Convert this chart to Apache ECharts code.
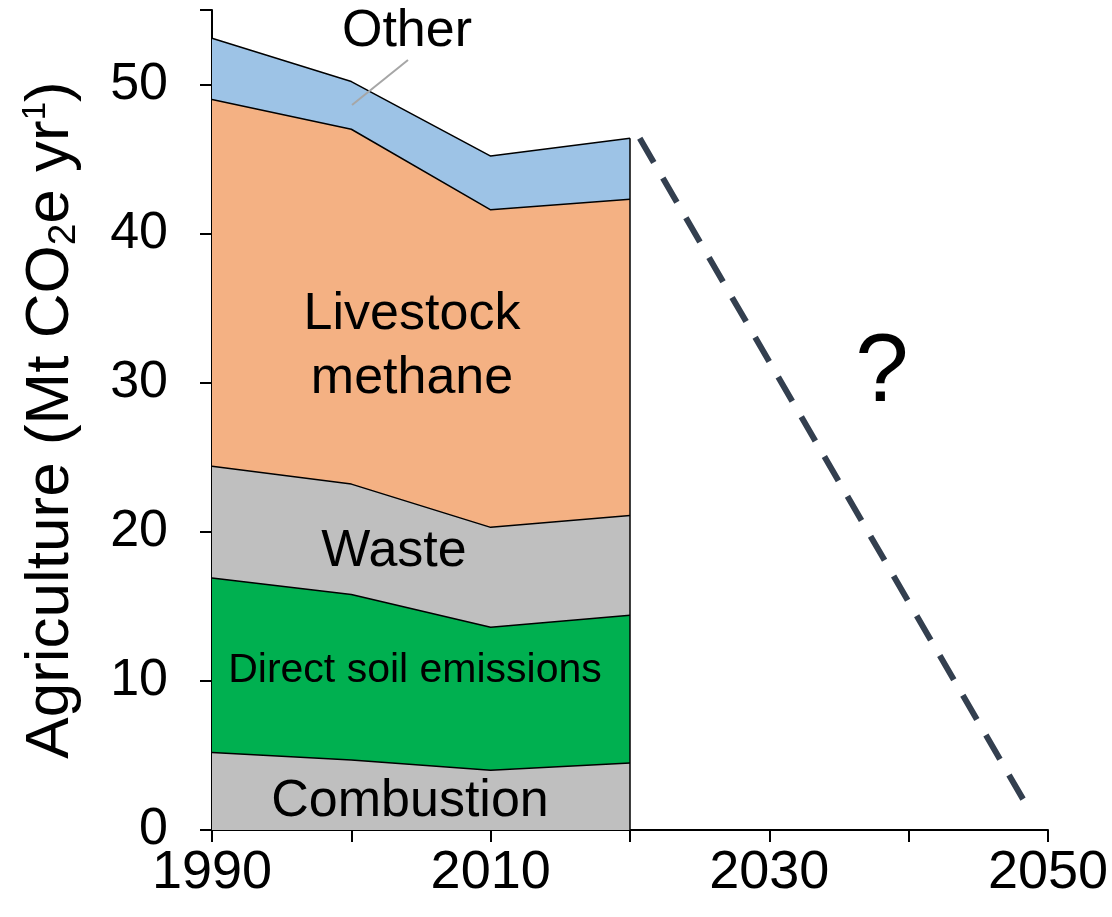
<!DOCTYPE html>
<html>
<head>
<meta charset="utf-8">
<script src="https://cdn.jsdelivr.net/npm/echarts@6/dist/echarts.min.js"></script>
<style>html,body{margin:0;background:#fff}#chart{width:1112px;height:917px}</style>
</head>
<body>
<div id="chart"></div>
<script>
// years and emissions by source (Mt CO2e/yr)
var years = [1990, 2000, 2010, 2020];
var combustion = [5.2, 4.7, 4.0, 4.5];
var soil = [11.7, 11.1, 9.6, 9.9];
var waste = [7.5, 7.4, 6.7, 6.7];
var livestock = [24.6, 23.8, 21.3, 21.2];
var other = [4.1, 3.2, 3.6, 4.1];
var pathway = [[2020.7, 46.4], [2048.5, 1.6]];
var xLabels = [1990, 2010, 2030, 2050];

var font = 'Liberation Sans, Arial, sans-serif';
var layers = [
    { name: 'Combustion', v: combustion, color: '#bfbfbf' },
    { name: 'Direct soil emissions', v: soil, color: '#00b050' },
    { name: 'Waste', v: waste, color: '#bfbfbf' },
    { name: 'Livestock methane', v: livestock, color: '#f4b183' },
    { name: 'Other', v: other, color: '#9dc3e6' }
];
// cumulative tops; draw from top layer down so lower areas cover upper ones
var run = years.map(function () { return 0; });
layers.forEach(function (l) {
    run = run.map(function (r, i) { return r + l.v[i]; });
    l.top = run.slice();
});
var series = layers.slice().reverse().map(function (l) {
    return {
        name: l.name, type: 'line', symbol: 'none',
        data: years.map(function (y, i) { return [y, l.top[i]]; }),
        lineStyle: { color: '#000', width: 1.5 }, areaStyle: { color: l.color, opacity: 1 }
    };
});
var total = run;
series.push({
    type: 'line', data: [[2020, 0], [2020, total[3]]], symbol: 'none',
    lineStyle: { color: '#000', width: 1.5 }
});
series.push({
    type: 'line', data: pathway, symbol: 'none',
    lineStyle: { color: '#333f4f', width: 6, type: [28, 18] }
});

function label(x, y, text, size) {
    return { type: 'text', x: x, y: y, z: 100,
        style: { text: text, font: size + 'px ' + font, fill: '#000', align: 'center', verticalAlign: 'middle', lineHeight: 64 } };
}

var chart = echarts.init(document.getElementById('chart'));
chart.setOption({
    animation: false,
    grid: { left: 212, right: 64, top: 10, bottom: 87, containLabel: false, outerBoundsMode: 'none' },
    xAxis: {
        type: 'value', min: 1990, max: 2050, interval: 10,
        axisLine: { lineStyle: { color: '#000', width: 2 } },
        axisTick: { length: 12, lineStyle: { color: '#000', width: 2 } },
        splitLine: { show: false },
        axisLabel: {
            fontSize: 54, color: '#000', fontFamily: font, margin: 16,
            formatter: function (v) { return xLabels.indexOf(v) >= 0 ? String(v) : ''; }
        }
    },
    yAxis: {
        type: 'value', min: 0, max: 55, interval: 10,
        axisLine: { show: true, lineStyle: { color: '#000', width: 2 } },
        axisTick: { show: true, length: 12, lineStyle: { color: '#000', width: 2 } },
        splitLine: { show: false },
        axisLabel: {
            fontSize: 52, color: '#000', fontFamily: font, margin: 44,
            formatter: function (v) { return v > 50 ? '' : v; }
        },
        name: '{a|Agriculture (Mt CO}{s|2}{a|e yr}{p|1}{a|)}',
        nameLocation: 'middle', nameGap: 128, nameRotate: 90,
        nameTextStyle: {
            rich: {
                a: { fontSize: 62, fontFamily: font, color: '#000' },
                s: { fontSize: 39, fontFamily: font, color: '#000', padding: [28, 0, 0, 0] },
                p: { fontSize: 33, fontFamily: font, color: '#000', padding: [0, 0, 30, 0] }
            }
        }
    },
    series: series,
    graphic: [
        label(407, 32, 'Other', 52),
        { type: 'line', z: 100, shape: { x1: 408, y1: 60, x2: 352, y2: 105 }, style: { stroke: '#a6a6a6', lineWidth: 2 } },
        label(412, 347, 'Livestock\nmethane', 52),
        label(394, 552, 'Waste', 52),
        label(415, 671, 'Direct soil emissions', 41),
        label(410, 802, 'Combustion', 52),
        label(882, 375, '?', 96)
    ]
});
</script>
</body>
</html>
